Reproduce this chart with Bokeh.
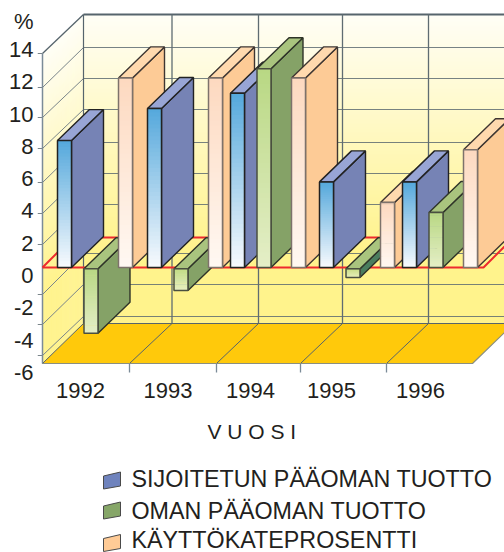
from bokeh.plotting import figure
from bokeh.models import Range1d, LinearAxis, FixedTicker
from bokeh.core.properties import value
from bokeh.embed import file_html
from bokeh.resources import INLINE

# ---- data ----
years = ["1992", "1993", "1994", "1995", "1996"]
sijoitetun = [8.3, 10.4, 11.4, 5.6, 5.6]
oman = [-4.3, -1.5, 13.0, -0.65, 3.6]
kayttokate = [12.4, 12.4, 12.4, 4.25, 7.7]
tick_labels = [14, 12, 10, 8, 6, 4, 2, 0, -2, -4, -6]
legend_labels = ["SIJOITETUN PÄÄOMAN TUOTTO", "OMAN PÄÄOMAN TUOTTO", "KÄYTTÖKATEPROSENTTI"]

# ---- layout ----
FONT = value("Liberation Sans")
INK = "#231F20"
K = 15.29
ZERO_PX = 267
RIGHT_PX = 504
BOTTOM_PX = 552
def Y(px):
    return (ZERO_PX - px) / K

DX, DY = 32, 31 / K
BAR_W = 14
GROUP_X = [57, 147, 230, 319, 402]
SERIES_OFF = [0, 26.5, 61]
YEAR_X = [80, 167.5, 250, 331, 420]

STYLES = [
    dict(hi=(0x56, 0xA9, 0xDC), lo=(0xF6, 0xF9, 0xFD), top="#98A5D5", side="#7683B5", edge="#222222", front="#222222"),
    dict(hi=(0xB9, 0xD8, 0x84), lo=(0xE4, 0xEE, 0xC6), top="#A9C47E", side="#85A267", edge="#2E3328", front="#4A4F40"),
    dict(hi=(0xFD, 0xD9, 0xC0), lo=(0xFF, 0xF8, 0xF2), top="#FFD9AE", side="#FDCB96", edge="#3E3632", front="#7D726B"),
]

def mix(a, b, t):
    return "#%02X%02X%02X" % tuple(round(a[i] + (b[i] - a[i]) * t) for i in range(3))

p = figure(width=504, height=552, output_backend="svg", toolbar_location=None,
           x_range=Range1d(37, RIGHT_PX), y_range=Range1d(Y(BOTTOM_PX), Y(0)),
           x_axis_location=None, y_axis_location=None,
           min_border_left=37, min_border_right=0, min_border_top=0, min_border_bottom=0,
           outline_line_color=None, background_fill_color="white", border_fill_color="white")
p.grid.visible = False

# value axis, whose labels sit on their own slightly wider scale
LK = 16.15
PCT = (275 - 21) / LK
p.extra_y_ranges["labels"] = Range1d((275 - BOTTOM_PX) / LK, 275 / LK)
overrides = {t: str(t) for t in tick_labels}
overrides[PCT] = "%"
ax = LinearAxis(y_range_name="labels", ticker=FixedTicker(ticks=tick_labels + [PCT]),
                major_label_overrides=overrides)
ax.axis_line_color = None
ax.major_tick_line_color = None
ax.minor_tick_line_color = None
ax.major_tick_out = 0
ax.major_tick_in = 0
ax.minor_tick_out = 0
ax.major_label_standoff = 4
ax.major_label_text_font = "Liberation Sans"
ax.major_label_text_font_size = "22px"
ax.major_label_text_color = INK
p.add_layout(ax, "left")

# walls: gradient bands
WALL_TOP, WALL_BOT = 14, 323
c0, c1 = (0xFF, 0xFE, 0xF6), (0xFF, 0xF3, 0x8C)
xs_l, ys_l, cols, lx, rx, ty, by = [], [], [], [], [], [], []
for i, py in enumerate(range(WALL_TOP, WALL_BOT)):
    t = min(1, (py - WALL_TOP) / 235)
    c = mix(c0, c1, t)
    cols.append(c)
    lx.append(83); rx.append(RIGHT_PX); ty.append(Y(py)); by.append(Y(py + 1.6))
    xs_l.append([42, 83, 83, 42])
    ys_l.append([Y(py + 40), Y(py), Y(py + 1.6), Y(py + 41.6)])
p.patches(xs_l, ys_l, fill_color=cols, line_color=None)
p.quad(left=lx, right=rx, top=ty, bottom=by, fill_color=cols, line_color=None)

# floor
p.patch([42, 83, RIGHT_PX, RIGHT_PX, 472], [Y(363), Y(323), Y(323), Y(332), Y(363)], fill_color="#FFC90B", line_color=None)

# grid
GRID = "#5F6C72"
BACK_PX = [47, 78, 109, 142, 173, 204, 253, 284, 316]
FRONT_PX = [87, 117, 148, 182, 213, 244, 294, 324, 355]
p.multi_line([[83, RIGHT_PX] for _ in BACK_PX], [[Y(b), Y(b)] for b in BACK_PX], line_color=GRID, line_width=1.2, line_alpha=0.85)
p.multi_line([[42, 83] for _ in BACK_PX], [[Y(f), Y(b)] for f, b in zip(FRONT_PX, BACK_PX)], line_color="#7A858A", line_width=1)
p.multi_line([[37, 42] for _ in FRONT_PX + [53]], [[Y(f), Y(f)] for f in FRONT_PX + [53]], line_color="#7A858A", line_width=1)
p.line([83, RIGHT_PX], [Y(14), Y(14)], line_color="#56646C", line_width=1.8)
p.line([42, 83], [Y(53), Y(14)], line_color="#56646C", line_width=1.3)
p.line([42, 42], [Y(53), Y(363)], line_color="#7B8B98", line_width=1.5)
p.line([83, 83], [Y(14), Y(323)], line_color="#56646C", line_width=1.2)
VERT = [171.5, 258, 342, 428]
FOOT = [129, 216, 300, 386]
p.multi_line([[v, v] for v in VERT], [[Y(14), Y(323)] for _ in VERT], line_color=GRID, line_width=1.3)
p.multi_line([[f, v] for f, v in zip(FOOT, VERT)], [[Y(363), Y(323)] for _ in VERT], line_color="#56646C", line_width=1)
p.multi_line([[f, f] for f in FOOT], [[Y(363), Y(372)] for _ in FOOT], line_color="#7B8B98", line_width=1.3)
p.line([42, 83], [Y(363), Y(323)], line_color="#56646C", line_width=1)
p.line([83, RIGHT_PX], [Y(323), Y(323)], line_color="#56646C", line_width=1)
p.line([42, 472, RIGHT_PX], [Y(363), Y(363), Y(332)], line_color="#8A8F80", line_width=1.2)

# zero plane
RED = "#EE2A2E"
p.line([42, 483, RIGHT_PX], [Y(267), Y(267), Y(246)], line_color=RED, line_width=2)
p.line([42, 72, RIGHT_PX], [Y(267), Y(237), Y(237)], line_color=RED, line_width=2)

# bars, painted left to right
def bar(x0, v, st, side=None):
    hi = max(v, 0) if v > 0 else -0.08
    lo = 0 if v > 0 else v
    x1 = x0 + BAR_W
    n = 40
    step = (hi - lo) / n
    tops = [hi - step * k for k in range(n)]
    bots = [max(lo, hi - step * (k + 1.4)) for k in range(n)]
    fills = [mix(st["hi"], st["lo"], k / (n - 1)) for k in range(n)]
    p.patch([x1, x1 + DX, x1 + DX, x1], [hi, hi + DY, lo + DY, lo], fill_color=side or st["side"], line_color=st["edge"], line_width=1.4)
    p.patch([x0, x1, x1 + DX, x0 + DX], [hi, hi, hi + DY, hi + DY], fill_color=st["top"], line_color=st["edge"], line_width=1.4)
    p.quad(left=[x0] * n, right=[x1] * n, top=tops, bottom=bots, fill_color=fills, line_color=None)
    p.quad(left=[x0], right=[x1], top=[hi], bottom=[lo], fill_color=None, line_color=st["front"], line_width=1.5)

series = [sijoitetun, oman, kayttokate]
for i in range(len(years)):
    for s, vals in enumerate(series):
        side = "#4A7D5E" if s == 1 and abs(vals[i]) < 1 else None
        bar(GROUP_X[i] + SERIES_OFF[s], vals[i], STYLES[s], side)

# texts
p.text(YEAR_X, [Y(390)] * 5, text=years, text_font=FONT, text_font_size=value("22px"),
       text_color=INK, text_align="center", text_baseline="middle")
p.text([207], [Y(431)], text=["V U O S I"], text_font=FONT, text_font_size=value("21px"),
       text_color=INK, text_align="left", text_baseline="middle")
LEG_Y = [478, 510, 539.5]
SWATCH = ["#6F83BD", "#86A668", "#FFCB96"]
SWATCH_Y = [480.5, 510.5, 543]
for ly, sy, lab, c in zip(LEG_Y, SWATCH_Y, legend_labels, SWATCH):
    p.patch([103, 120, 120, 103], [Y(sy + 8), Y(sy + 5), Y(sy - 9), Y(sy - 5)], fill_color=c, line_color="#4A4A4A", line_width=1)
    p.text([131], [Y(ly)], text=[lab], text_font=FONT, text_font_size=value("23.3px"),
           text_color=INK, text_align="left", text_baseline="middle")

open("out.html", "w").write(file_html(p, INLINE))
